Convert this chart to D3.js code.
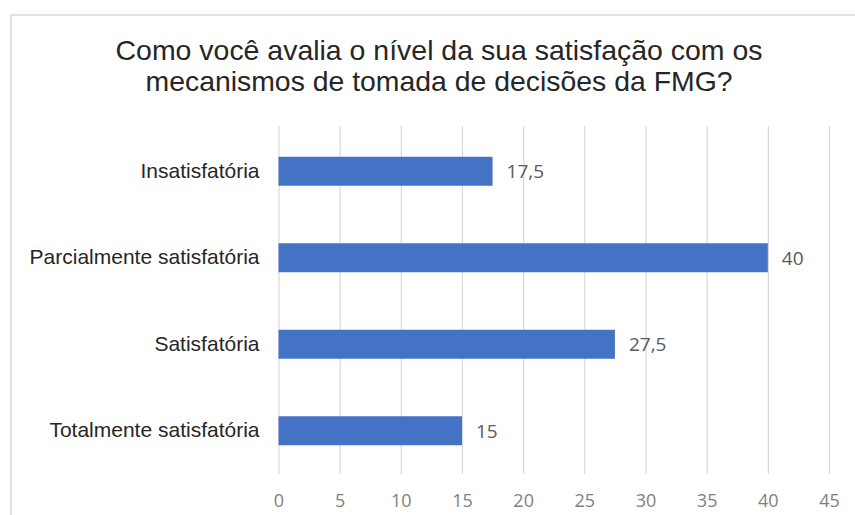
<!DOCTYPE html>
<html>
<head>
<meta charset="utf-8">
<script src="https://cdn.jsdelivr.net/npm/d3@7"></script>
<style>
  html, body { margin: 0; padding: 0; background: #ffffff; }
  svg { display: block; }
</style>
</head>
<body>
<svg id="chart" width="855" height="515"></svg>
<script>
const titleLines = ["Como você avalia o nível da sua satisfação com os", "mecanismos de tomada de decisões da FMG?"];
const categories = ["Insatisfatória", "Parcialmente satisfatória", "Satisfatória", "Totalmente satisfatória"];
const values = [17.5, 40, 27.5, 15];
const valueLabels = ["17,5", "40", "27,5", "15"];
const xTicks = [0, 5, 10, 15, 20, 25, 30, 35, 40, 45];

const svg = d3.select("#chart");
const W = 855, H = 515;
const plot = { left: 278.5, right: 829, top: 126, bottom: 474 };

// chart border (partially visible frame)
svg.append("rect")
  .attr("x", 11).attr("y", 15)
  .attr("width", W + 20).attr("height", H + 20)
  .attr("fill", "#ffffff")
  .attr("stroke", "#d9d9d9").attr("stroke-width", 1.5);

// title
const titleWidths = [647, 587];
const title = svg.append("text")
  .attr("text-anchor", "middle")
  .attr("font-family", "'Liberation Sans', Arial, sans-serif")
  .attr("font-size", 28)
  .attr("fill", "#262626");
title.selectAll("tspan").data(titleLines).join("tspan")
  .attr("x", 439)
  .attr("y", (d, i) => 60 + i * 31)
  .attr("textLength", (d, i) => titleWidths[i])
  .attr("lengthAdjust", "spacingAndGlyphs")
  .text(d => d);

const x = d3.scaleLinear().domain([0, 45]).range([plot.left, plot.right]);
const y = d3.scaleBand().domain(categories).range([plot.top + 2, plot.bottom])
  .paddingInner(0.665).paddingOuter(0.3325);

// gridlines via axis
const gx = svg.append("g")
  .attr("transform", `translate(0,${plot.bottom})`)
  .call(d3.axisBottom(x).tickValues(xTicks).tickSize(-(plot.bottom - plot.top)).tickPadding(20).tickFormat(d3.format("d")));
gx.select(".domain").remove();
gx.selectAll(".tick line").attr("stroke", "#d9d9d9").attr("stroke-width", 1.2);
gx.selectAll(".tick text")
  .attr("font-family", "'Open Sans', Calibri, sans-serif")
  .attr("font-size", 18)
  .attr("fill", "#7f7f7f");

// bars
svg.append("g").selectAll("rect").data(values).join("rect")
  .attr("x", x(0))
  .attr("y", (d, i) => y(categories[i]))
  .attr("width", d => x(d) - x(0))
  .attr("height", y.bandwidth())
  .attr("fill", "#4472c4");

// value labels
svg.append("g").selectAll("text").data(values).join("text")
  .attr("x", d => x(d) + 14)
  .attr("y", (d, i) => y(categories[i]) + y.bandwidth() / 2)
  .attr("dy", "0.36em")
  .attr("font-family", "'Open Sans', Calibri, sans-serif")
  .attr("font-size", 19)
  .attr("fill", "#595959")
  .text((d, i) => valueLabels[i]);

// category axis
const gy = svg.append("g")
  .attr("transform", `translate(${plot.left},0)`)
  .call(d3.axisLeft(y).tickSize(0).tickPadding(19));
gy.select(".domain").remove();
gy.selectAll(".tick text")
  .attr("font-family", "'Liberation Sans', Arial, sans-serif")
  .attr("font-size", 21)
  .attr("fill", "#262626");
</script>
</body>
</html>
